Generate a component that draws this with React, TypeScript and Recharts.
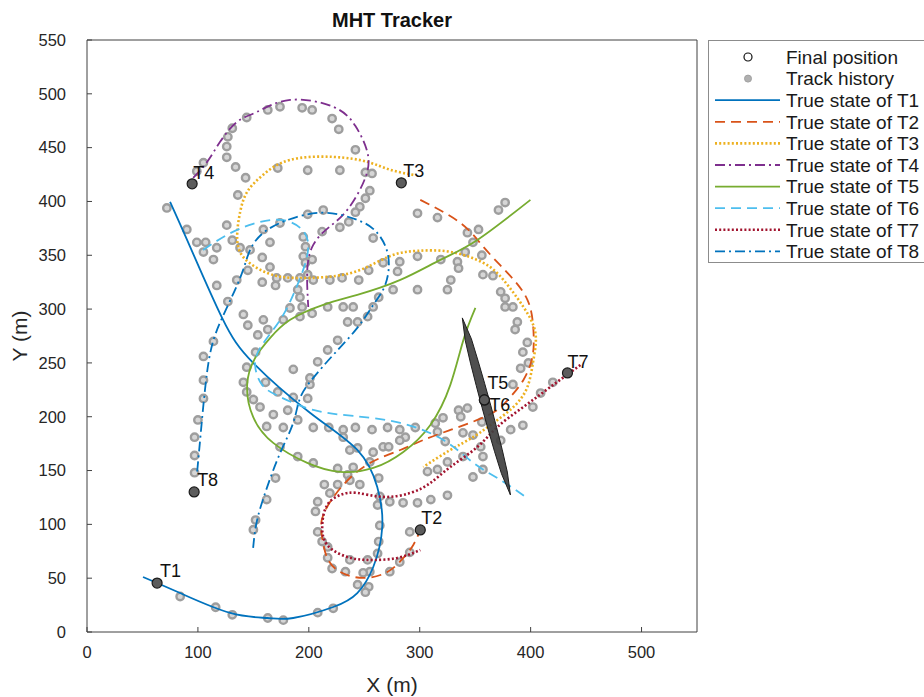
import React from 'react';
import { ScatterChart, Scatter, XAxis, YAxis, Legend } from 'recharts';

// ---------- data (X, Y in metres) ----------
const xTicks = [0, 100, 200, 300, 400, 500];
const yTicks = [0, 50, 100, 150, 200, 250, 300, 350, 400, 450, 500, 550];

const trueStateNames = ['T1', 'T2', 'T3', 'T4', 'T5', 'T6', 'T7', 'T8'];

const trueT1 = [[50.5,51.1],[83.9,36.2],[129.1,17.7],[162.5,13.0],[185.9,13.0],[222.0,23.2],[243.7,36.2],[258.1,60.4],[266.2,97.6],[261.7,134.8],[243.7,169.1],[201.3,203.5],[149.8,250.0],[121.8,291.8],[93.0,357.8],[74.9,399.6]];
const trueT2 = [[300.5,401.5],[336.6,380.1],[357.4,357.8],[379.1,333.6],[397.1,308.6],[402.5,280.7],[401.6,255.6],[393.5,234.2],[381.8,218.4],[370.0,206.3],[352.0,197.0],[327.6,187.7],[303.2,178.4],[282.5,169.1],[255.4,157.1],[231.0,136.6],[213.0,108.7],[212.1,87.4],[216.6,68.8],[228.3,55.8],[249.1,50.2],[270.8,55.8],[285.2,68.8],[294.2,80.9],[300.5,94.8]];
const trueT3 = [[294.2,424.7],[273.5,429.4],[252.7,436.8],[222.0,441.4],[183.2,438.7],[158.8,424.7],[144.4,408.9],[138.1,390.3],[135.4,369.0],[140.8,348.5],[162.5,333.6],[185.9,329.0],[216.6,329.9],[246.4,336.4],[273.5,349.4],[297.8,354.1],[327.6,353.2],[357.4,342.9],[375.5,327.1],[393.5,302.0],[404.3,277.9],[402.5,252.8],[397.1,227.7],[384.5,209.1],[366.4,194.2],[348.4,181.2],[327.6,169.1],[303.2,153.3]];
const trueT4 = [[95.7,421.9],[108.3,436.8],[120.0,455.4],[135.4,474.0],[153.4,483.3],[183.2,494.4],[222.0,487.9],[241.9,470.3],[252.7,446.1],[250.9,421.9],[234.7,392.2],[217.5,375.5],[204.0,359.7],[198.6,336.4],[199.5,302.0]];
const trueT5 = [[399.8,401.5],[352.0,364.3],[318.6,345.7],[282.5,327.1],[243.7,313.2],[213.0,303.9],[183.2,290.0],[165.2,273.2],[151.6,254.6],[144.4,229.6],[149.8,199.8],[167.9,175.7],[198.6,157.1],[228.3,148.7],[258.1,152.4],[285.2,167.3],[309.6,192.4],[327.6,229.6],[339.4,271.4],[350.2,301.1]];
const trueT6 = [[104.7,355.0],[126.4,369.0],[149.8,379.2],[174.2,382.9],[192.2,375.5],[199.5,359.7],[194.9,336.4],[185.9,313.2],[174.2,290.0],[157.9,266.7],[151.6,248.1],[157.9,229.6],[174.2,218.4],[204.0,206.3],[240.1,200.7],[282.5,194.2],[321.3,178.4],[348.4,157.1],[372.7,141.3],[395.3,125.5]];
const trueT7 = [[444.9,248.1],[417.9,227.7],[393.5,209.1],[370.0,190.5],[352.0,171.9],[327.6,153.3],[309.6,138.5],[291.5,129.2],[267.1,125.5],[243.7,129.2],[228.3,127.3],[216.6,118.0],[212.1,99.4],[216.6,80.9],[234.7,69.7],[255.4,66.9],[279.8,68.8],[300.5,76.2]];
const trueT8 = [[149.8,78.1],[153.4,104.1],[162.5,134.8],[174.2,166.4],[185.9,194.2],[192.2,217.5],[204.0,236.1],[222.0,257.4],[243.7,282.5],[258.1,303.9],[268.9,322.5],[271.7,348.5],[261.7,370.8],[243.7,382.9],[216.6,389.4],[189.5,385.7],[162.5,373.6],[147.1,355.0],[138.1,329.0],[121.8,291.8],[112.8,266.7],[108.3,241.6],[104.7,208.2],[102.0,178.4],[99.3,148.7]];

const trackHistory = [
  [99,428],[105,436],[127,460],[131,468],[144,478],[163,485],[174,488],[194,487],[203,485],[221,477],[227,467],[242,448],[251,427],[257,426],[255,410],[251,403],[246,395],[242,390],[236,381],[228,376],[126,451],[126,441],[134,432],[143,422],[136,406],[172,431],[199,429],[228,429],[298,389],[316,385],
  [72,394],[90,374],[99,362],[107,362],[105,353],[117,357],[114,346],[126,378],[131,364],[138,357],[147,355],[159,374],[174,380],[199,388],[213,392],[165,362],[158,348],[165,339],[171,329],[181,329],[145,336],[158,325],[170,322],[135,327],[117,322],[127,307],[141,295],[145,285],[159,290],[163,281],[154,276],[177,290],[195,367],[197,358],[195,349],[197,343],[203,346],[199,332],[192,329],[204,327],[219,327],[230,329],[245,327],[254,336],[267,343],[282,344],[280,335],[258,366],[212,372],[190,318],[192,311],[194,302],[183,301],[192,293],[203,296],[217,302],[231,302],[240,302],[235,288],[244,288],[253,293],[258,302],[263,311],[276,318],[298,318],
  [105,256],[114,270],[105,234],[105,217],[100,197],[97,181],[97,164],[97,148],[152,260],[144,246],[141,232],[144,223],[150,216],[156,209],[168,202],[162,191],[177,190],[190,197],[204,190],[218,190],[231,188],[231,181],[242,190],[257,188],[271,190],[282,188],[287,181],[296,190],[258,167],[267,172],[174,172],[190,163],[204,157],[226,152],[240,153],[170,143],[162,123],[152,104],[150,95],[186,218],[199,217],[181,206],[201,230],[186,244],[201,236],[226,271],[217,262],[208,251],[161,232],[172,223],
  [314,194],[321,199],[316,186],[323,177],[272,172],[282,178],[244,171],[255,158],[235,146],[246,137],[263,143],[226,137],[219,129],[208,121],[206,112],[208,93],[212,84],[217,69],[221,59],[233,56],[237,67],[253,67],[255,56],[254,42],[251,37],[263,84],[264,99],[262,118],[273,56],[282,65],[291,74],[291,93],[273,121],[285,120],[298,120],[310,123],[325,127],[307,149],[316,151],[325,158],[217,79],[214,137],[237,141],[264,126],[262,73],[249,55],[244,44],[84,33],[116,23],[131,16],[163,13],[177,11],[208,18],[222,22],
  [343,371],[353,374],[371,392],[377,399],[348,362],[341,353],[356,350],[334,344],[335,338],[319,346],[298,349],[328,327],[325,318],[357,332],[366,331],[373,316],[377,310],[377,302],[384,302],[388,288],[386,281],[397,269],[393,260],[391,245],[398,250],[384,230],[409,222],[420,232],[402,209],[393,192],[382,188],[335,206],[343,208],[337,200],[348,183],[339,185],[356,195],[357,163],[339,163],[357,151],[355,172],[237,169],[348,144],[373,178],
];

const finalNames = ['T1', 'T2', 'T3', 'T4', 'T5', 'T6', 'T7', 'T8'];
const finalX = [63.2, 300.5, 283.4, 94.8, 358.3, 358.3, 433.2, 96.6];
const finalY = [45.5, 94.8, 417.3, 416.4, 215.6, 215.6, 240.7, 130.1];

// covariance ellipse outline (points read around its edge)
const ellipseOutline = [[338.4,291.8],[346.6,272.3],[352.7,251.6],[358.5,231.1],[364.0,210.7],[369.3,190.1],[374.4,169.3],[379.0,148.6],[381.8,127.3],[373.7,147.1],[367.5,167.5],[361.7,188.0],[356.2,208.5],[350.9,229.1],[345.8,249.7],[341.1,270.5]];

const legendLabels = ['Final position', 'Track history', ...trueStateNames.map((n) => `True state of ${n}`)];

// ---------- styles ----------
const FONT = '"Liberation Sans", Arial, Helvetica, sans-serif';
const AXIS_COLOR = '#404040';
const TEXT_COLOR = '#262626';
const seriesStyle = [
  { color: '#0072BD', dash: undefined, width: 1.8 },
  { color: '#D95319', dash: '10 6', width: 1.8 },
  { color: '#EDB120', dash: '2 2.2', width: 2.6 },
  { color: '#7E2F8E', dash: '10 4 2 4', width: 1.8 },
  { color: '#77AC30', dash: undefined, width: 1.8 },
  { color: '#4DBEEE', dash: '10 6', width: 1.8 },
  { color: '#A2142F', dash: '2 2.2', width: 2.6 },
  { color: '#0072BD', dash: '10 4 2 4', width: 1.8 },
];
const labelOffsets: Record<string, [number, number]> = {
  T1: [3, -6], T2: [1, -6], T3: [2, -6], T4: [1, -5], T5: [3, -11], T6: [5, 11], T7: [0, -5], T8: [3, -6],
};

const toPoints = (arr: number[][]) => arr.map(([x, y]) => ({ x, y }));
const trueStates = [trueT1, trueT2, trueT3, trueT4, trueT5, trueT6, trueT7, trueT8].map(toPoints);
const historyData = toPoints(trackHistory);
const finalData = finalNames.map((name, i) => ({ name, x: finalX[i], y: finalY[i] }));
const ellipseData = toPoints(ellipseOutline);

const EmptyShape = () => <g />;

const HistoryShape = (props: any) => (
  <circle cx={props.cx} cy={props.cy} r={3.7} fill="#d6d6d6" stroke="#9e9e9e" strokeWidth={2.4} />
);

const FinalShape = (props: any) => {
  const name = props.payload?.name ?? props.name;
  const off = labelOffsets[name] || [3, -6];
  return (
    <g>
      <circle cx={props.cx} cy={props.cy} r={5} fill="#5c5c5c" stroke="#1a1a1a" strokeWidth={1.2} />
      <text x={props.cx + off[0]} y={props.cy + off[1]} fontSize={18} fontFamily={FONT} fill="#111">
        {name}
      </text>
    </g>
  );
};

const EllipseLine = (props: any) => {
  const pts = props.points || [];
  if (!pts.length) return <g />;
  const d = pts.map((p: any, i: number) => `${i ? 'L' : 'M'}${p.x},${p.y}`).join(' ') + ' Z';
  return <path d={d} fill="#404040" fillOpacity={0.92} stroke="#1e1e1e" strokeWidth={1} />;
};

const LegendContent = () => {
  const rowY = (i: number) => 17 + i * 21.6;
  return (
    <svg width={240} height={226} style={{ display: 'block' }}>
      <rect x={0.5} y={0.5} width={260} height={222} fill="#fff" stroke="#8c8c8c" strokeWidth={1} />
      {legendLabels.map((label, i) => {
        const y = rowY(i);
        let marker: React.ReactNode = null;
        if (i === 0) marker = <circle cx={40} cy={y} r={4} fill="none" stroke="#111" strokeWidth={1.2} />;
        else if (i === 1) marker = <circle cx={40} cy={y} r={3.5} fill="#b0b0b0" stroke="#a0a0a0" strokeWidth={1} />;
        else {
          const s = seriesStyle[i - 2];
          marker = (
            <line x1={7} x2={72} y1={y} y2={y} stroke={s.color} strokeWidth={s.width} strokeDasharray={s.dash} />
          );
        }
        return (
          <g key={label}>
            {marker}
            <text x={78} y={y} dy="0.36em" fontSize={19} fontFamily={FONT} fill="#1a1a1a">
              {label}
            </text>
          </g>
        );
      })}
    </svg>
  );
};

export default function App() {
  return (
    <div style={{ position: 'absolute', left: 0, top: 0, width: 924, height: 697, background: '#fff' }}>
      <div
        style={{
          position: 'absolute', left: 87, top: 0, width: 610, height: 40, display: 'flex',
          alignItems: 'center', justifyContent: 'center', fontFamily: FONT, fontWeight: 'bold',
          fontSize: 20, color: '#111',
        }}
      >
        MHT Tracker
      </div>
      <ScatterChart width={924} height={697} margin={{ top: 30, right: 217, bottom: 35, left: 27 }}>
        <XAxis
          type="number" dataKey="x" domain={[0, 550]} ticks={xTicks} allowDataOverflow
          height={30} tickSize={-5} tickMargin={19}
          axisLine={{ stroke: AXIS_COLOR }} tickLine={{ stroke: AXIS_COLOR }}
          tick={{ fontSize: 16.5, fill: TEXT_COLOR, fontFamily: FONT }}
          label={{ value: 'X (m)', position: 'bottom', offset: 15, fontSize: 21, fill: TEXT_COLOR, fontFamily: FONT }}
        />
        <XAxis
          xAxisId="top" orientation="top" type="number" dataKey="x" domain={[0, 550]} ticks={xTicks}
          allowDataOverflow height={10} tickSize={-5} tick={false}
          axisLine={{ stroke: AXIS_COLOR }} tickLine={{ stroke: AXIS_COLOR }}
        />
        <YAxis
          type="number" dataKey="y" domain={[0, 550]} ticks={yTicks} allowDataOverflow
          width={60} tickSize={-5} tickMargin={26}
          axisLine={{ stroke: AXIS_COLOR }} tickLine={{ stroke: AXIS_COLOR }}
          tick={{ fontSize: 16.5, fill: TEXT_COLOR, fontFamily: FONT }}
          label={{ value: 'Y (m)', angle: -90, position: 'insideLeft', offset: -7, fontSize: 21, fill: TEXT_COLOR, fontFamily: FONT, style: { textAnchor: 'middle' } }}
        />
        <YAxis
          yAxisId="right" orientation="right" type="number" dataKey="y" domain={[0, 550]} ticks={yTicks}
          allowDataOverflow width={10} tickSize={-5} tick={false}
          axisLine={{ stroke: AXIS_COLOR }} tickLine={{ stroke: AXIS_COLOR }}
        />
        <Legend
          layout="vertical" align="center" verticalAlign="middle"
          wrapperStyle={{ position: 'absolute', left: 708, top: 40, width: 240, height: 226 }}
          content={LegendContent}
        />
        <Scatter name="Track history" data={historyData} shape={HistoryShape} isAnimationActive={false} />
        {trueStates.map((data, i) => (
          <Scatter
            key={trueStateNames[i]}
            name={`True state of ${trueStateNames[i]}`}
            data={data}
            fill={seriesStyle[i].color}
            shape={EmptyShape}
            line={{ stroke: seriesStyle[i].color, strokeWidth: seriesStyle[i].width, strokeDasharray: seriesStyle[i].dash }}
            lineType="joint"
            lineJointType="natural"
            isAnimationActive={false}
          />
        ))}
        <Scatter name="Ellipse" data={ellipseData} shape={EmptyShape} line={EllipseLine} lineType="joint" isAnimationActive={false} />
        <Scatter name="Final position" data={finalData} shape={FinalShape} isAnimationActive={false} />
      </ScatterChart>
    </div>
  );
}
